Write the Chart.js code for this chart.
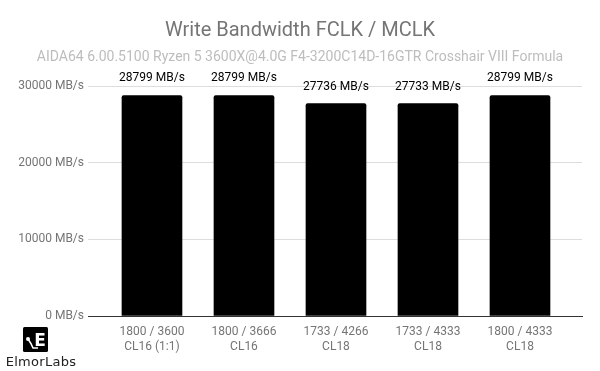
<!DOCTYPE html>
<html>
<head>
<meta charset="utf-8">
<script src="https://cdn.jsdelivr.net/npm/chart.js@4.4.0/dist/chart.umd.min.js"></script>
<style>
    body { margin: 0; background: #fff; }
    #wrap { position: relative; width: 600px; height: 371px; }
    #logo { position: absolute; left: 2px; top: 327px; width: 78px; text-align: center; }
    #logo svg { display: block; margin-left: 21px; }
    #logo .name { font: 13px 'DejaVu Sans', sans-serif; color: #222; margin-top: 2px; letter-spacing: 0.3px; }
</style>
</head>
<body>
<div id="wrap">
    <canvas id="chart" width="600" height="371"></canvas>
    <div id="logo">
        <svg width="25" height="25" viewBox="0 0 25 25">
            <rect x="0" y="0" width="25" height="25" rx="1.5" fill="#000"/>
            <text x="17" y="19" text-anchor="middle" fill="#fff" font-family="DejaVu Sans" font-weight="bold" font-size="17">E</text>
            <circle cx="5" cy="12" r="2" fill="#fff"/>
            <path d="M5 12 Q8 16 10 21 L15 21" stroke="#fff" stroke-width="1.6" fill="none"/>
        </svg>
        <div class="name">ElmorLabs</div>
    </div>
</div>
<script>
// FCLK / MCLK settings and measured write bandwidth
const configs = [
    ['1800 / 3600', 'CL16 (1:1)'],
    ['1800 / 3666', 'CL16'],
    ['1733 / 4266', 'CL18'],
    ['1733 / 4333', 'CL18'],
    ['1800 / 4333', 'CL18']
];
const writeBandwidth = [28799, 28799, 27736, 27733, 28799];
const yTicks = [0, 10000, 20000, 30000];

// Value labels above each bar
const valueLabels = {
    id: 'valueLabels',
    afterDatasetsDraw(chart) {
        const ctx = chart.ctx;
        const meta = chart.getDatasetMeta(0);
        ctx.save();
        ctx.font = '12px Roboto';
        ctx.fillStyle = '#000';
        ctx.textAlign = 'center';
        ctx.textBaseline = 'bottom';
        meta.data.forEach((bar, i) => {
            ctx.fillText(writeBandwidth[i] + ' MB/s', bar.x, bar.y - 11);
        });
        ctx.restore();
    }
};

const ctx = document.getElementById('chart').getContext('2d');
new Chart(ctx, {
    type: 'bar',
    data: {
        datasets: [{
            data: writeBandwidth.map((v, i) => ({ x: i, y: v })),
            backgroundColor: '#000',
            borderRadius: 2,
            borderSkipped: 'bottom',
            barThickness: 60
        }]
    },
    options: {
        responsive: false,
        animation: false,
        layout: { padding: { left: 18, right: 18, bottom: 0 } },
        plugins: {
            legend: { display: false },
            tooltip: { enabled: false },
            title: {
                display: true,
                text: 'Write Bandwidth FCLK / MCLK',
                color: '#757575',
                font: { family: 'Roboto', size: 20, weight: 'normal' },
                padding: { top: 18.5, bottom: 7 }
            },
            subtitle: {
                display: true,
                text: 'AIDA64 6.00.5100 Ryzen 5 3600X@4.0G F4-3200C14D-16GTR Crosshair VIII Formula',
                color: '#bdbdbd',
                font: { family: 'Roboto', size: 14 },
                padding: { top: 0, bottom: 20 }
            }
        },
        scales: {
            x: {
                type: 'linear',
                offset: false,
                min: -0.652,
                max: 4.674,
                afterBuildTicks: (scale) => {
                    scale.ticks = configs.map((c, i) => ({ value: i }));
                },
                afterFit: (scale) => { scale.height = 55; },
                grid: { display: false, offset: false },
                border: { display: true, color: '#333' },
                ticks: {
                    color: '#757575',
                    font: { family: 'Roboto', size: 12, lineHeight: 1.2 },
                    padding: 1,
                    maxRotation: 0,
                    autoSkip: false,
                    callback: (value) => configs[value]
                }
            },
            y: {
                min: 0,
                max: 30000,
                afterBuildTicks: (scale) => {
                    scale.ticks = yTicks.map(v => ({ value: v }));
                },
                afterFit: (scale) => { scale.width = 74; },
                border: { display: false },
                grid: {
                    color: (c) => c.tick && c.tick.value === 0 ? '#333' : '#dddddd',
                    tickLength: 4
                },
                ticks: {
                    color: '#757575',
                    font: { family: 'Roboto', size: 12 },
                    padding: 4,
                    callback: (value) => value + ' MB/s'
                }
            }
        }
    },
    plugins: [valueLabels]
});
</script>
</body>
</html>
